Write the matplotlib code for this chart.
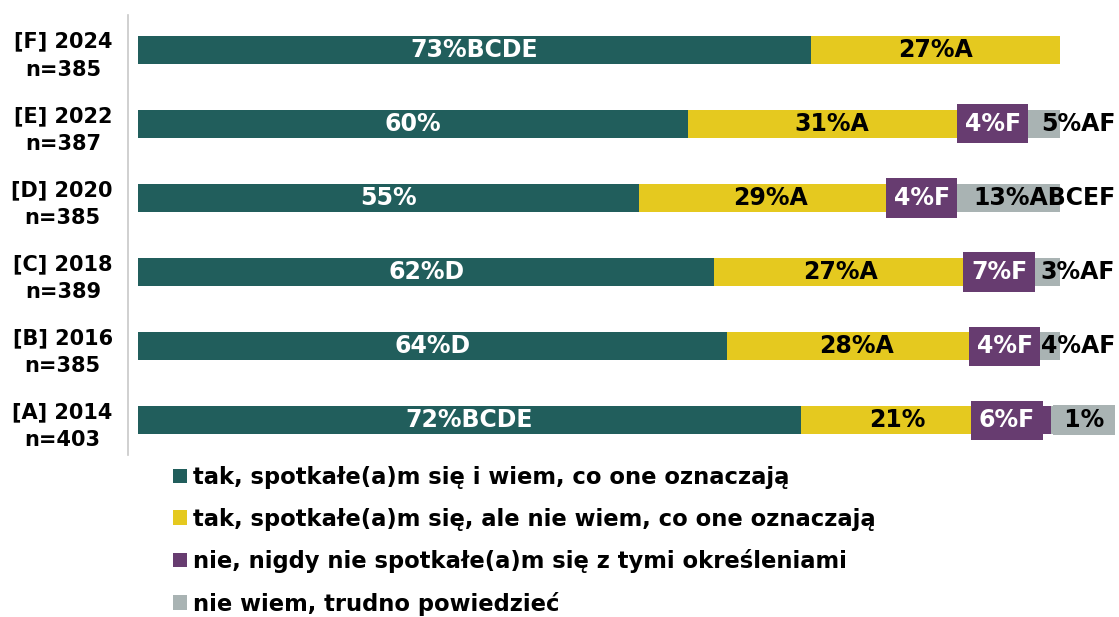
import matplotlib.pyplot as plt
from matplotlib.patches import Patch

plt.rcParams['font.family'] = ['DejaVu Sans']

years = ['[A] 2014\nn=403', '[B] 2016\nn=385', '[C] 2018\nn=389',
         '[D] 2020\nn=385', '[E] 2022\nn=387', '[F] 2024\nn=385']

# segment widths (labels carry the rounded values)
wiem = [71.9, 63.9, 62.5, 54.3, 59.7, 73.0]
nie_wiem_co = [21.0, 28.1, 27.4, 28.7, 31.0, 27.0]
nigdy = [6.1, 4.0, 7.0, 4.0, 4.0, 0]
trudno = [1.0, 4.0, 3.1, 13.0, 5.3, 0]

lab_wiem = ['72%BCDE', '64%D', '62%D', '55%', '60%', '73%BCDE']
lab_nie_wiem_co = ['21%', '28%A', '27%A', '29%A', '31%A', '27%A']
lab_nigdy = ['6%F', '4%F', '7%F', '4%F', '4%F', '']
lab_trudno = ['1%', '4%AF', '3%AF', '13%ABCEF', '5%AF', '']

legend_labels = ['tak, spotkałe(a)m się i wiem, co one oznaczają',
                 'tak, spotkałe(a)m się, ale nie wiem, co one oznaczają',
                 'nie, nigdy nie spotkałe(a)m się z tymi określeniami',
                 'nie wiem, trudno powiedzieć']

colors = ['#215E5C', '#E5C91F', '#673C70', '#A9B3B3']

fig = plt.figure(figsize=(11.19, 6.17), dpi=100)
ax = fig.add_axes([128 / 1119, 1 - 455 / 617, 991 / 1119, 440 / 617])

y = list(range(len(years)))
h = 0.37
series = [wiem, nie_wiem_co, nigdy, trudno]
labels = [lab_wiem, lab_nie_wiem_co, lab_nigdy, lab_trudno]
left = [0] * len(years)
fs = 17

for k, (vals, labs) in enumerate(zip(series, labels)):
    ax.barh(y, vals, left=left, height=h, color=colors[k], edgecolor='none')
    for i, (v, lab) in enumerate(zip(vals, labs)):
        if not lab:
            continue
        cx = left[i] + v / 2
        if k == 0:
            ax.text(cx, i, lab, ha='center', va='center', color='white',
                    fontsize=fs, fontweight='bold')
        elif k == 1:
            ax.text(cx, i, lab, ha='center', va='center', color='black',
                    fontsize=fs, fontweight='bold')
        elif k == 2:
            # the 2014 label is pushed left to clear the small gray one
            if i == 0:
                cx -= 1.7
            ax.text(cx, i, lab, ha='center', va='center', color='white',
                    fontsize=fs, fontweight='bold',
                    bbox=dict(boxstyle='square,pad=0.32', fc=colors[2], ec='none'))
        else:
            # gray labels sit right-aligned past the end of the bar
            end = left[i] + v + 6.0
            if v < 2:
                ax.text(end - 0.3, i, ' ' + lab + ' ', ha='right', va='center',
                        color='black', fontsize=fs, fontweight='bold',
                        bbox=dict(boxstyle='square,pad=0.12', fc=colors[3], ec='none'))
            else:
                ax.text(end, i, lab, ha='right', va='center', color='black',
                        fontsize=fs, fontweight='bold')
    left = [a + b for a, b in zip(left, vals)]

ax.set_xlim(-1.08, 106.4)
ax.set_ylim(-0.47, 5.47)
ax.set_yticks(y)
ax.set_yticklabels(years, fontsize=15, fontweight='bold', linespacing=1.5,
                   multialignment='center')
ax.tick_params(axis='y', length=0, pad=11)
ax.set_xticks([])
for s in ['top', 'right', 'bottom']:
    ax.spines[s].set_visible(False)
ax.spines['left'].set_color('#C8C8C8')
ax.spines['left'].set_linewidth(1.2)

handles = [Patch(facecolor=c, edgecolor='none') for c in colors]
fig.legend(handles, legend_labels, loc='upper left',
           bbox_to_anchor=(173 / 1119, 1 - 466 / 617), frameon=False,
           prop={'size': 16.3, 'weight': 'bold'}, handlelength=0.62,
           handleheight=0.62, handletextpad=0.25, labelspacing=0.82,
           borderaxespad=0, borderpad=0)

fig.savefig('out.png', dpi=100)
